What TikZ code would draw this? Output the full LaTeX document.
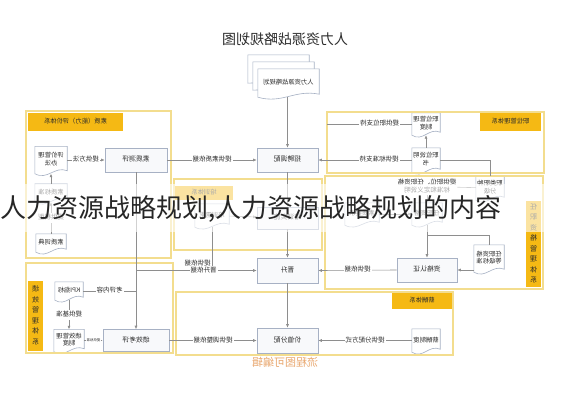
\documentclass[tikz,border=0pt]{standalone}
\usepackage{fontspec}
\setmainfont{Noto Sans CJK SC}
\usepackage{graphicx}
\usetikzlibrary{arrows.meta,calc,backgrounds,shadows}

\definecolor{frameyel}{HTML}{F3DD8E}
\definecolor{hdrorange}{HTML}{F5B914}
\definecolor{boxline}{HTML}{A7B1C4}
\definecolor{boxfill}{HTML}{F8F9FB}
\definecolor{linkgray}{HTML}{8E8E8E}
\definecolor{txt}{HTML}{2B2B2B}
\definecolor{wmorange}{HTML}{E9A76E}

% mirrored text, as the chart is printed
\newcommand{\mtext}[1]{\reflectbox{\begin{tabular}{@{}c@{}}#1\end{tabular}}}

\tikzset{
  groupframe/.style={draw=frameyel, line width=1.3pt},
  hdr/.style={fill=hdrorange, inner sep=0pt, text=txt, font=\fontsize{6.3}{7.5}\selectfont},
  vhdr/.style={hdr, font=\fontsize{7}{10.5}\selectfont},
  procbox/.style={draw=boxline, fill=boxfill, line width=0.6pt, text=txt,
    font=\fontsize{6.8}{8}\selectfont, inner sep=1pt,
    drop shadow={shadow xshift=0.8pt, shadow yshift=-0.8pt, opacity=0.15}},
  docbox/.style={inner sep=1pt, text=txt, font=\fontsize{6.3}{7.6}\selectfont},
  docline/.style={draw=boxline, fill=white, line width=0.6pt},
  lab/.style={fill=white, inner sep=1pt, text=txt, font=\fontsize{6.5}{7.6}\selectfont},
  conn/.style={draw=linkgray, line width=0.6pt},
  flow/.style={conn, -{Latex[length=3.5pt,width=3pt]}},
}

\begin{document}
\begin{tikzpicture}[x=1pt, y=-1pt]
\useasboundingbox (0,0) rectangle (567,400);

% system frames
\draw[groupframe] (26,111) rectangle (171,258);
\draw[groupframe] (327,112) rectangle (544,173);
\draw[groupframe] (325,176) rectangle (543,289);
\draw[groupframe] (174,179) rectangle (322,250);
\draw[groupframe] (26,263) rectangle (173,353);
\draw[groupframe] (176,292) rectangle (453,355);

\node[hdr, minimum width=95, minimum height=18] (hdA) at (75.5,122) {\mtext{素质（能力）评价体系}};
\node[hdr, minimum width=61, minimum height=18] (hdB) at (510.5,122) {\mtext{职位管理体系}};
\node[vhdr, minimum width=15, minimum height=86] (hdC) at (533.5,244) {\mtext{任\\职\\资\\格\\管\\理\\体\\系}};
\node[hdr, minimum width=58, minimum height=14] (hdD) at (204,193) {\mtext{培训体系}};
\node[vhdr, minimum width=15, minimum height=70] (hdE) at (35.5,316) {\mtext{绩\\效\\管\\理\\体\\系}};
\node[hdr, minimum width=60, minimum height=16] (hdF) at (422,301) {\mtext{薪酬体系}};

\node[text=txt, font=\fontsize{14}{16}\selectfont] (title) at (285,41) {\mtext{人力资源战略规划图}};

% process boxes
\node[procbox, minimum width=61, minimum height=24] (zp) at (287.5,160) {\mtext{招聘调配}};
\node[procbox, minimum width=61, minimum height=22] (pxss) at (287.5,218) {\mtext{培训实施}};
\node[procbox, minimum width=61, minimum height=25] (js) at (287.5,270.5) {\mtext{晋升}};
\node[procbox, minimum width=61, minimum height=25] (jz) at (287.5,340.5) {\mtext{价值分配}};
\node[procbox, minimum width=62, minimum height=24] (szcp) at (136,160) {\mtext{素质测评}};
\node[procbox, minimum width=60, minimum height=24] (zgrz) at (427,270) {\mtext{资格认证}};
\node[procbox, minimum width=66, minimum height=22] (jxkp) at (136,340.5) {\mtext{绩效考评}};

% documents
\node[docbox, minimum width=61, minimum height=28] (dd) at (288.5,83) {\mtext{人力资源战略规划}};
\node[docbox, minimum width=32, minimum height=27] (pjbf) at (51,160) {\mtext{评价管理\\办法}};
\node[docbox, minimum width=32, minimum height=18] (szbz) at (51,193) {\mtext{素质标准}};
\node[docbox, minimum width=30, minimum height=18] (szcd) at (51,243) {\mtext{素质词典}};
\node[docbox, minimum width=28, minimum height=22] (zwzd) at (426,124) {\mtext{职位管理\\制度}};
\node[docbox, minimum width=28, minimum height=24] (zwsm) at (426,160) {\mtext{职位说明\\书}};
\node[docbox, minimum width=28, minimum height=24] (zlzz) at (490,188) {\mtext{职类职种\\分级}};
\node[docbox, minimum width=34, minimum height=22] (c1) at (362,214) {\mtext{素质要求}};
\node[docbox, minimum width=30, minimum height=22] (c2) at (427,214) {\mtext{任职资格}};
\node[docbox, minimum width=30, minimum height=27] (rzbz) at (489,258.5) {\mtext{任职资格\\等级标准}};
\node[docbox, minimum width=34, minimum height=23] (d1) at (212,215.5) {\mtext{培训需求}};
\node[docbox, minimum width=28, minimum height=18] (kpi) at (69,291) {\mtext{KPI指标}};
\node[docbox, minimum width=30, minimum height=22] (jxzd) at (69,340.5) {\mtext{绩效管理\\制度}};
\node[docbox, minimum width=28, minimum height=23] (xczd) at (426,340.5) {\mtext{薪酬制度}};

\begin{scope}[on background layer]
  \fill[white] (0,0) rectangle (567,400);
  \filldraw[docline] ($(dd.north west)+(-10,-14)$) -- ($(dd.north east)+(-10,-14)$) -- ($(dd.south east)+(-10,-17)$) -- ($(dd.south west)+(-10,-14)$) -- cycle;
  \filldraw[docline] ($(dd.north west)+(-5,-7)$) -- ($(dd.north east)+(-5,-7)$) -- ($(dd.south east)+(-5,-10)$) -- ($(dd.south west)+(-5,-7)$) -- cycle;
  \foreach \d in {dd,pjbf,szbz,szcd,zwzd,zwsm,zlzz,c1,c2,rzbz,d1,kpi,jxzd,xczd}
    \filldraw[docline] (\d.north west) -- (\d.north east) -- ($(\d.south east)+(0,-3)$)
      .. controls ($(\d.south east)!0.4!(\d.south west)+(0,-8)$) and ($(\d.south east)!0.6!(\d.south west)+(0,7)$) .. (\d.south west) -- cycle;
\end{scope}

% connectors
\draw[flow] (zp.north |- dd.south) -- (zp.north);
\draw[flow] (zp) -- (pxss);
\draw[flow] (pxss) -- (js);
\draw[flow] (js) -- (jz);
\draw[flow] (szcp.east) -- node[lab]{\mtext{提供素质依据}} (zp.west);
\draw[flow] (zwsm.west) -- node[lab, pos=0.35]{\mtext{提供标准支持}} (zp.east);
\coordinate (bEdge) at (327,124);
\draw[conn] (zwzd.west) -- node[lab, pos=0.38]{\mtext{提供职位支持}} (bEdge);
\draw[flow] (zwsm) -- (zwzd);
\draw[conn] (zwsm.east) -| (zlzz.north);
\draw[flow] (pjbf.east) -- node[lab]{\mtext{提供方法}} (szcp.west);
\draw[flow] (szbz) -- (pjbf);
\draw[flow] (szcd) -- node[lab]{\mtext{提供模型}} (szbz);
\draw[flow] (szcp.south) -- (jxkp.north);
\coordinate (jsBr) at (136,270.5);
\coordinate (pxBr) at (212,270.5);
\draw[conn] (d1.south) -- node[lab, fill=none, left, pos=0.85]{\mtext{提供依据}} (pxBr);
\draw[flow] (jsBr) -- node[lab, pos=0.56]{\mtext{晋升依据}} (js.west);
\draw[flow] (jxkp.east) -- node[lab]{\mtext{提供调整依据}} (jz.west);
\draw[flow] (xczd.west) -- node[lab]{\mtext{提供分配方式}} (jz.east);
\draw[conn] (kpi.east) -- node[lab]{\mtext{考评内容}} (kpi.east -| jxkp.north);
\draw[flow] (kpi) -- node[lab]{\mtext{提供基准}} (jxzd);
\draw[flow] (jxzd.east) -- node[lab, font=\fontsize{3.4}{4}\selectfont]{\mtext{提供标准}} (jxkp.west);
\draw[flow] (zgrz.west) -- node[lab]{\mtext{提供依据}} (js.east);
\node[lab] (zlLab) at (427,186.5) {\mtext{提供职位、任职资格\\标准和定义说明}};
\draw[conn] (zlzz) -- (zlLab);
\draw[flow] (zlLab) -- (c2);
\draw[flow] (c1) -- (c2);
\draw[flow] (d1) -- (pxss);
\draw[flow] (c2) -- (zgrz);
\coordinate (cBr) at (427,235);
\draw[conn] (cBr) -| (rzbz.north);
\draw[flow] (rzbz.west |- zgrz.east) -- (zgrz.east);

\node[text=wmorange, font=\fontsize{11}{13}\selectfont] (wm) at (285,364) {\mtext{流程图可编辑}};

% caption laid over the chart
\fill[white, opacity=0.6] (0,184) rectangle (567,232);
\node[anchor=west, inner sep=0pt, text=black!85, font=\fontsize{26}{28}\selectfont] (cap) at (0,209) {人力资源战略规划,人力资源战略规划的内容};
\end{tikzpicture}
\end{document}
